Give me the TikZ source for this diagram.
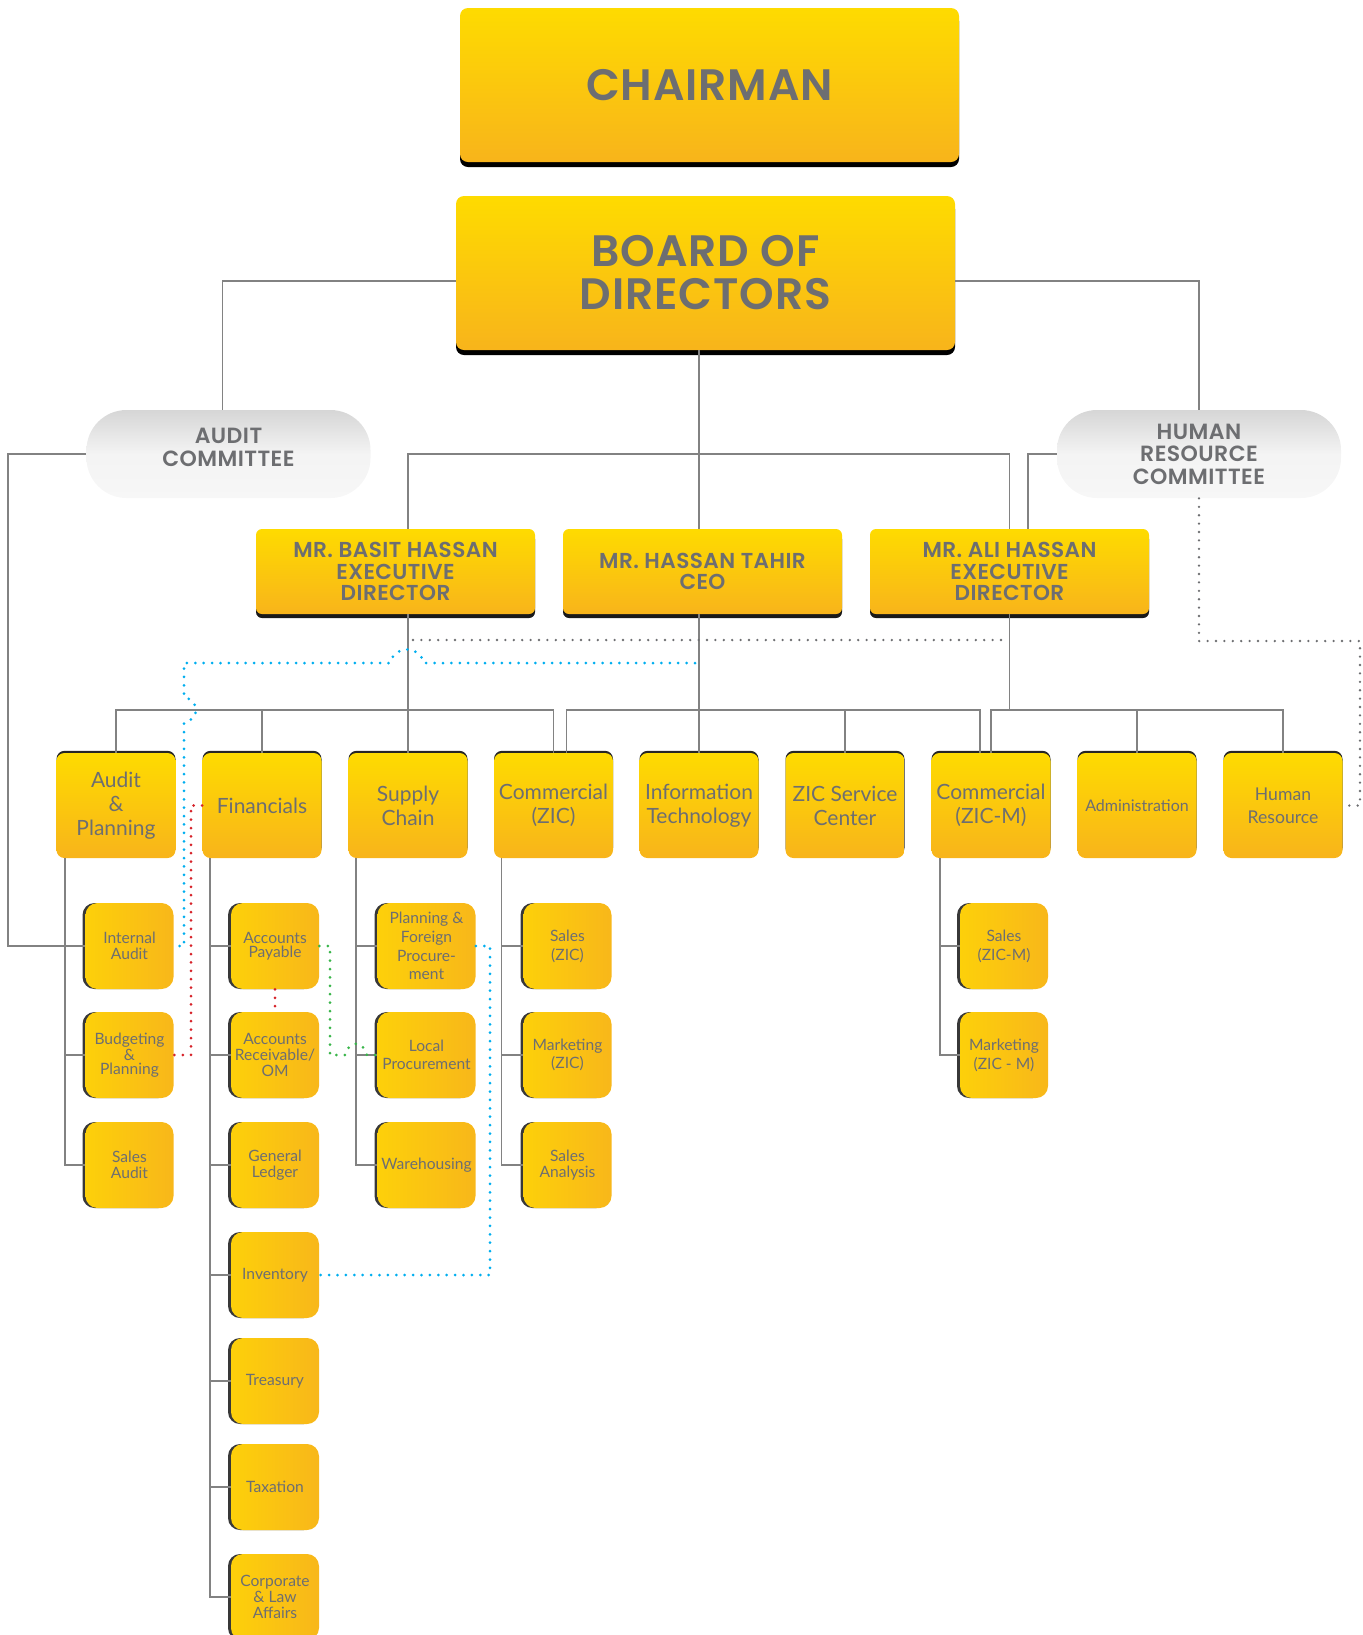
\documentclass[tikz,border=0pt]{standalone}
\usepackage{fontspec}
\setmainfont{Lato}
\newfontfamily\headfont{Poppins}[BoldFont={Poppins SemiBold}, LetterSpace=2]
\usetikzlibrary{shadows}
\definecolor{ytop}{RGB}{254,219,0}
\definecolor{ybot}{RGB}{248,180,27}
\definecolor{yleft}{RGB}{253,208,10}
\definecolor{yright}{RGB}{248,183,26}
\definecolor{txtgray}{RGB}{109,110,113}
\definecolor{linegray}{RGB}{130,130,130}
\definecolor{dotblue}{RGB}{0,174,239}
\definecolor{dotred}{RGB}{214,35,42}
\definecolor{dotgreen}{RGB}{57,181,74}
\definecolor{pilltop}{RGB}{214,214,214}
\definecolor{pillbot}{RGB}{247,247,247}
\newcommand{\execY}{571.5}
\newcommand{\deptY}{805.5}
\tikzset{
  topbox/.style={top color=ytop, bottom color=ybot, rounded corners=4pt,
    minimum width=249.5pt, minimum height=77pt, inner sep=0pt, align=center,
    text=txtgray, font=\headfont\bfseries\fontsize{22}{21.5}\selectfont,
    drop shadow={shadow xshift=0pt, shadow yshift=-2.5pt, fill=black, opacity=1}},
  commbox/.style={top color=pilltop, bottom color=pillbot, middle color=pillbot!90!pilltop,
    rounded corners=20pt, minimum width=142pt, minimum height=44pt, inner sep=0pt,
    align=center, text=txtgray, font=\headfont\bfseries\fontsize{11}{11.3}\selectfont},
  execbox/.style={top color=ytop, bottom color=ybot, rounded corners=3pt,
    minimum width=139.5pt, minimum height=42.5pt, inner sep=0pt, align=center,
    text=txtgray, font=\headfont\bfseries\fontsize{10.8}{10.7}\selectfont,
    drop shadow={shadow xshift=0pt, shadow yshift=-2pt, fill=black!90, opacity=1}},
  deptbox/.style={top color=ytop, bottom color=ybot, rounded corners=4pt,
    minimum width=59.5pt, minimum height=52.5pt, inner sep=0pt, align=center,
    text=txtgray, font=\fontsize{10.5}{12}\selectfont,
    drop shadow={shadow xshift=0pt, shadow yshift=1.1pt, fill=black!85, opacity=1}},
  subbox/.style={left color=yleft, right color=yright, rounded corners=6pt,
    minimum width=44pt, minimum height=43pt, inner sep=0pt, align=center,
    text=txtgray, font=\fontsize{7.8}{8}\selectfont,
    drop shadow={shadow xshift=-1.5pt, shadow yshift=0pt, fill=black!78, opacity=1}},
  widesub/.style={subbox, minimum width=49pt},
  conn/.style={draw=linegray, line width=0.8pt},
  dotline/.style={line width=1.5pt, line cap=round, dash pattern=on 0pt off 4.2pt},
  bluedots/.style={dotline, draw=dotblue},
  reddots/.style={dotline, draw=dotred},
  greendots/.style={dotline, draw=dotgreen},
  graydots/.style={dotline, draw=txtgray, line width=1.3pt}
}
\begin{document}
\begin{tikzpicture}[x=0.5pt,y=-0.5pt]
\useasboundingbox (0,0) rectangle (1362,1635);

\node[topbox] (chair) at (709.5,85) {CHAIRMAN};
\node[topbox] (board) at (705.5,273) {BOARD OF\\DIRECTORS};
\node[commbox, text depth=7pt] (auditc) at (228.5,454) {AUDIT\\COMMITTEE};
\node[commbox] (hrc) at (1199,454) {HUMAN\\RESOURCE\\COMMITTEE};

\node[execbox] (basit) at (395.5,\execY) {MR. BASIT HASSAN\\EXECUTIVE\\DIRECTOR};
\node[execbox] (hassan) at (702.5,\execY) {MR. HASSAN TAHIR\\CEO};
\node[execbox] (ali) at (1009.5,\execY) {MR. ALI HASSAN\\EXECUTIVE\\DIRECTOR};

\node[deptbox] (audplan) at (116,\deptY) {Audit\\\&\\Planning};
\node[deptbox] (fin) at (262,\deptY) {Financials};
\node[deptbox] (supply) at (408,\deptY) {Supply\\Chain};
\node[deptbox] (comzic) at (553.5,\deptY) {Commercial\\(ZIC)};
\node[deptbox] (it) at (699,\deptY) {Information\\Technology};
\node[deptbox] (zsc) at (845,\deptY) {ZIC Service\\Center};
\node[deptbox] (comzicm) at (991,\deptY) {Commercial\\(ZIC-M)};
\node[deptbox, font=\fontsize{8}{9}\selectfont] (admin) at (1137,\deptY) {Administration};
\node[deptbox, font=\fontsize{8.8}{11.5}\selectfont] (hr) at (1283,\deptY) {Human\\Resource};

\node[subbox] (intaudit) at (129.5,946) {Internal\\Audit};
\node[subbox, font=\fontsize{7.8}{6.6}\selectfont] (budget) at (129.5,1055) {Budgeting\\\&\\Planning};
\node[subbox] (salesaudit) at (129.5,1165) {Sales\\Audit};

\node[subbox, font=\fontsize{7.8}{7.2}\selectfont] (ap) at (275,946) {Accounts\\Payable};
\node[subbox] (ar) at (275,1055) {Accounts\\Receivable/\\OM};
\node[subbox] (gl) at (275,1165) {General\\Ledger};
\node[subbox] (inv) at (275,1275) {Inventory};
\node[subbox] (treas) at (275,1381) {Treasury};
\node[subbox] (tax) at (275,1487) {Taxation};
\node[subbox] (corp) at (275,1597) {Corporate\\\& Law\\Affairs};

\node[widesub, font=\fontsize{7.8}{9.4}\selectfont] (pfp) at (426.5,946) {Planning \&\\Foreign\\Procure-\\ment};
\node[widesub, font=\fontsize{7.8}{9}\selectfont] (lp) at (426.5,1055) {Local\\Procurement};
\node[widesub] (wh) at (426.5,1165) {Warehousing};

\node[subbox, font=\fontsize{7.8}{9.5}\selectfont] (szic) at (567.5,946) {Sales\\(ZIC)};
\node[subbox, font=\fontsize{7.8}{9}\selectfont] (mzic) at (567.5,1055) {Marketing\\(ZIC)};
\node[subbox] (sana) at (567.5,1165) {Sales\\Analysis};

\node[subbox, font=\fontsize{7.8}{9.5}\selectfont] (szicm) at (1004,946) {Sales\\(ZIC-M)};
\node[subbox, font=\fontsize{7.8}{9.5}\selectfont] (mzicm) at (1004,1055) {Marketing\\(ZIC - M)};

\coordinate (execbus) at (0,454);
\coordinate (deptbus) at (0,710);
\coordinate (rail) at (8,946);

\draw[conn] ([yshift=-4pt]board.west) -| ([xshift=-3pt]auditc.north);
\draw[conn] ([yshift=-4pt]board.east) -| (hrc.north);
\draw[conn] (board.south -| it.north) -- (hassan.north -| it.north);
\draw[conn] (supply.north |- basit.north) -- (supply.north |- execbus) -| (ali.north);
\draw[conn] (auditc.west) -| (rail) -- (intaudit.west);
\draw[conn] (hrc.west) -| ([xshift=9.25pt]ali.north);

\draw[conn] (supply.north |- basit.south) -- (supply.north);
\draw[conn] (audplan.north) -- (audplan.north |- deptbus) -| (comzic.north);
\draw[conn] (fin.north) -- (fin.north |- deptbus);
\draw[conn] (hassan.south -| it.north) -- (it.north);
\draw[conn] ([xshift=6.5pt]comzic.north) -- ([xshift=6.5pt]comzic.north |- deptbus) -| ([xshift=-5.5pt]comzicm.north);
\draw[conn] (zsc.north) -- (zsc.north |- deptbus);
\draw[conn] (ali.south) -- (ali.south |- deptbus);
\draw[conn] (comzicm.north) -- (comzicm.north |- deptbus) -| (hr.north);
\draw[conn] (admin.north) -- (admin.north |- deptbus);

\coordinate (audtrunk) at ([xshift=4.5pt]audplan.south west);
\coordinate (fintrunk) at ([xshift=4pt]fin.south west);
\coordinate (suptrunk) at ([xshift=4pt]supply.south west);
\coordinate (comtrunk) at ([xshift=4pt]comzic.south west);
\coordinate (zmtrunk) at ([xshift=4.5pt]comzicm.south west);
\draw[conn] (audtrunk) |- (salesaudit.west);
\draw[conn] (fintrunk) |- (corp.west);
\draw[conn] (suptrunk) |- (wh.west);
\draw[conn] (comtrunk) |- (sana.west);
\draw[conn] (zmtrunk) |- (mzicm.west);
\foreach \n in {intaudit,budget} \draw[conn] (\n.west) -- (\n.west -| audtrunk);
\foreach \n in {ap,ar,gl,inv,treas,tax} \draw[conn] (\n.west) -- (\n.west -| fintrunk);
\foreach \n in {pfp,lp} \draw[conn] (\n.west) -- (\n.west -| suptrunk);
\foreach \n in {szic,mzic} \draw[conn] (\n.west) -- (\n.west -| comtrunk);
\draw[conn] (szicm.west) -- (szicm.west -| zmtrunk);

\coordinate (gdl) at (413,640);
\coordinate (gdr) at (1003,640);
\coordinate (bluestart) at (695,663);
\coordinate (hrturn) at (1360,641);
\draw[graydots] (gdl) -- (gdr);
\draw[graydots] (hrc.south) |- (hrturn) |- (hr.east);
\draw[bluedots] (bluestart) -- (424,663) .. controls (419,645) and (395,645) .. (390,663) -- (184,663) -- (184,697) .. controls (200,701) and (200,719) .. (184,723) -- (184,946) -- (intaudit.east);
\draw[reddots] (fin.west) -| (191,1055) -- (budget.east);
\draw[reddots] (ap.south) -- (ar.north);
\draw[greendots] (ap.east) -- (330,946) -- (330,1055) -- (345,1055) .. controls (349,1040) and (363,1040) .. (367,1055) -- (lp.west);
\draw[bluedots] (pfp.east) -| (490,1275) -- (inv.east);
\end{tikzpicture}
\end{document}
